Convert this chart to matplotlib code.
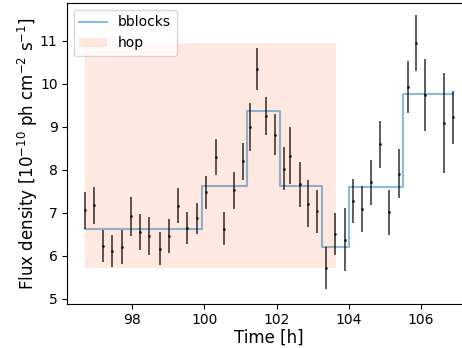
import matplotlib
matplotlib.use("Agg")
import matplotlib.pyplot as plt
import numpy as np

# Light curve data (time in hours, flux in 1e-10 ph cm^-2 s^-1)
time = [96.69, 96.94, 97.19, 97.44, 97.71, 97.96, 98.21, 98.45, 98.77, 99.02,
        99.28, 99.53, 99.79, 100.04, 100.31, 100.55, 100.81, 101.06, 101.27, 101.47,
        101.71, 101.97, 102.22, 102.38, 102.64, 102.88, 103.13, 103.38, 103.63, 103.89,
        104.13, 104.37, 104.63, 104.88, 105.13, 105.39, 105.65, 105.87, 106.13, 106.64,
        106.89]
flux = [7.06, 7.18, 6.23, 6.11, 6.21, 6.92, 6.55, 6.47, 6.17, 6.46,
        7.17, 6.65, 6.87, 7.48, 8.30, 6.63, 7.52, 8.20, 8.99, 10.34,
        9.25, 8.82, 8.02, 8.33, 7.66, 7.21, 7.04, 5.72, 6.51, 6.38,
        7.28, 7.09, 7.71, 8.59, 7.01, 7.91, 9.93, 10.95, 9.74, 9.09,
        9.22]
flux_err = [0.43, 0.43, 0.375, 0.375, 0.40, 0.45, 0.42, 0.445, 0.38, 0.39,
            0.40, 0.38, 0.36, 0.38, 0.415, 0.38, 0.42, 0.43, 0.56, 0.49,
            0.45, 0.47, 0.50, 0.66, 0.53, 0.55, 0.50, 0.48, 0.485, 0.73,
            0.51, 0.53, 0.52, 0.55, 0.52, 0.57, 0.61, 0.66, 0.84, 1.16,
            0.61]

# Bayesian blocks: edges and levels
bb_edges = [96.69, 99.93, 101.17, 102.11, 103.25, 104.01, 105.52, 106.89]
bb_levels = [6.63, 7.62, 9.36, 7.63, 6.21, 7.59, 9.77]

# HOP group extent
hop_t = [96.69, 103.65]
hop_flux = [5.72, 10.95]

fig = plt.figure(figsize=(4.62, 3.48), dpi=100)
ax = fig.add_axes([0.1444, 0.1264, 0.8755, 0.865])

step_y = bb_levels + [bb_levels[-1]]
ax.step(bb_edges, step_y, where='post', color='C0', alpha=0.5, lw=1.5,
        label='bblocks', zorder=2)

ax.fill_between(hop_t, hop_flux[0], hop_flux[1], color='orangered', alpha=0.12,
                linewidth=0, label='hop', zorder=0)

ax.errorbar(time, flux, yerr=flux_err, fmt='.', color='k', ms=2,
            elinewidth=1.2, alpha=0.75, zorder=3)

ax.set_xlim(96.18, 107.40)
ax.set_ylim(4.88, 11.88)
ax.set_xticks([98, 100, 102, 104, 106])
ax.set_yticks([5, 6, 7, 8, 9, 10, 11])
ax.tick_params(labelsize=10, pad=3)

ax.set_xlabel('Time [h]', fontsize=12, labelpad=1)
ax.set_ylabel(r'Flux density [$10^{-10}$ ph cm$^{-2}$ s$^{-1}$]', fontsize=12,
              labelpad=0)

ax.legend(loc='upper left', fontsize=10)

fig.savefig('out.png', dpi=100)
